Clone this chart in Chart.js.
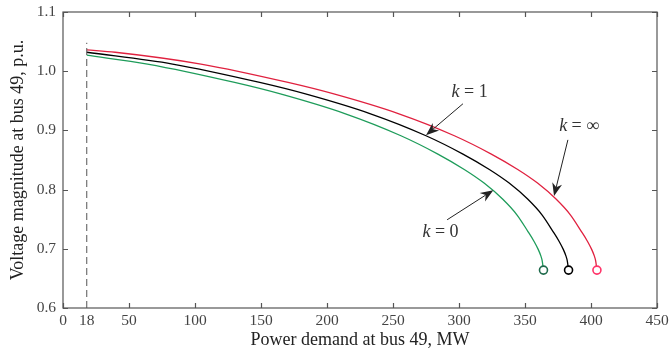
<!DOCTYPE html>
<html>
<head>
<meta charset="utf-8">
<script src="https://cdn.jsdelivr.net/npm/chart.js@4.4.1/dist/chart.umd.min.js"></script>
<style>
  html, body { margin: 0; padding: 0; background: #fff; }
  #wrap { width: 672px; height: 351px; }
</style>
</head>
<body>
<div id="wrap"><canvas id="myChart" width="672" height="351"></canvas></div>
<script>
// power demand (MW) and voltage (p.u.)
const pInf = [18, 39.5, 104.5, 170.5, 204.5, 254.5, 296.5, 324.5, 344.5, 359.5, 373.5, 384.5, 392.5, 397.5, 400.5, 402.5, 403.5, 404.5];
const vInf = [1.036, 1.032, 1.012, 0.981, 0.962, 0.928, 0.891, 0.860, 0.834, 0.811, 0.784, 0.757, 0.730, 0.712, 0.699, 0.688, 0.680, 0.664];

const pK1 = [18, 83, 149, 183, 233, 275, 303, 323, 338, 352, 363, 371, 376, 379, 381, 382, 383];
const vK1 = [1.032, 1.012, 0.981, 0.962, 0.928, 0.891, 0.860, 0.834, 0.811, 0.784, 0.757, 0.730, 0.712, 0.699, 0.688, 0.680, 0.664];

const pK0 = [18, 64, 130, 164, 214, 256, 284, 304, 319, 333, 344, 352, 357, 360, 362, 363, 364];
const vK0 = [1.027, 1.012, 0.981, 0.962, 0.928, 0.891, 0.860, 0.834, 0.811, 0.784, 0.757, 0.730, 0.712, 0.699, 0.688, 0.680, 0.664];

const xTickValues = [0, 18, 50, 100, 150, 200, 250, 300, 350, 400, 450];
const yTickValues = [0.6, 0.7, 0.8, 0.9, 1.0, 1.1];

// labels with arrows: text position, arrow tail, arrow tip (data coords)
const notes = [
    { text: ['k', ' = 1'], tx: 308, ty: 0.965, from: [303, 0.945], to: [275, 0.892] },
    { text: ['k', ' = ∞'], tx: 391, ty: 0.907, from: [382.5, 0.884], to: [372, 0.789] },
    { text: ['k', ' = 0'], tx: 286, ty: 0.728, from: [291, 0.749], to: [326, 0.799] },
];

function toPoints(xs, ys) {
    return xs.map((x, i) => ({ x: x, y: ys[i] }));
}

function endMarker(n) {
    return ctx => (ctx.dataIndex === n - 1 ? 4 : 0);
}

const SERIF = '"Liberation Serif", "DejaVu Serif", serif';
const AXIS = '#555';

const boxAndTicks = {
    id: 'boxAndTicks',
    afterDatasetsDraw(chart) {
        const { ctx, chartArea: a, scales } = chart;
        const x = scales.x, y = scales.y;
        ctx.save();

        // dashed line at 18 MW
        ctx.strokeStyle = '#555';
        ctx.lineWidth = 1;
        ctx.setLineDash([7, 4]);
        ctx.beginPath();
        ctx.moveTo(x.getPixelForValue(18), y.getPixelForValue(0.6));
        ctx.lineTo(x.getPixelForValue(18), y.getPixelForValue(1.048));
        ctx.stroke();
        ctx.setLineDash([]);

        ctx.strokeStyle = AXIS;
        ctx.lineWidth = 1.2;
        ctx.strokeRect(a.left, a.top, a.right - a.left, a.bottom - a.top);
        const len = 5;
        ctx.beginPath();
        xTickValues.filter(v => v !== 18).forEach(v => {
            const px = Math.round(x.getPixelForValue(v)) + 0.5;
            ctx.moveTo(px, a.bottom); ctx.lineTo(px, a.bottom - len);
            ctx.moveTo(px, a.top); ctx.lineTo(px, a.top + len);
        });
        yTickValues.forEach(v => {
            const py = Math.round(y.getPixelForValue(v)) + 0.5;
            ctx.moveTo(a.left, py); ctx.lineTo(a.left + len, py);
            ctx.moveTo(a.right, py); ctx.lineTo(a.right - len, py);
        });
        ctx.stroke();

        // annotations
        notes.forEach(n => {
            const x0 = x.getPixelForValue(n.from[0]), y0 = y.getPixelForValue(n.from[1]);
            const x1 = x.getPixelForValue(n.to[0]), y1 = y.getPixelForValue(n.to[1]);
            const ang = Math.atan2(y1 - y0, x1 - x0);
            const hl = 13, hw = 5;
            ctx.strokeStyle = '#222';
            ctx.fillStyle = '#222';
            ctx.lineWidth = 1;
            ctx.beginPath();
            ctx.moveTo(x0, y0);
            ctx.lineTo(x1 - Math.cos(ang) * hl * 0.7, y1 - Math.sin(ang) * hl * 0.7);
            ctx.stroke();
            ctx.save();
            ctx.translate(x1, y1);
            ctx.rotate(ang);
            ctx.beginPath();
            ctx.moveTo(0, 0);
            ctx.lineTo(-hl, -hw);
            ctx.lineTo(-hl * 0.7, 0);
            ctx.lineTo(-hl, hw);
            ctx.closePath();
            ctx.fill();
            ctx.restore();

            const tx = x.getPixelForValue(n.tx), ty = y.getPixelForValue(n.ty);
            ctx.fillStyle = '#333';
            ctx.textBaseline = 'middle';
            ctx.font = 'italic 18px ' + SERIF;
            const w1 = ctx.measureText(n.text[0]).width;
            ctx.font = '18px ' + SERIF;
            const w2 = ctx.measureText(n.text[1]).width;
            const sx = tx - (w1 + w2) / 2;
            ctx.textAlign = 'left';
            ctx.font = 'italic 18px ' + SERIF;
            ctx.fillText(n.text[0], sx, ty);
            ctx.font = '18px ' + SERIF;
            ctx.fillText(n.text[1], sx + w1, ty);
        });
        ctx.restore();
    }
};

const lineStyle = { borderWidth: 1.3, cubicInterpolationMode: 'monotone', pointBackgroundColor: '#fff', pointBorderWidth: 1.6, pointHoverRadius: 0 };

new Chart(document.getElementById('myChart').getContext('2d'), {
    type: 'line',
    data: {
        datasets: [
            Object.assign({ label: 'k = ∞', data: toPoints(pInf, vInf), borderColor: '#e0213f', pointBorderColor: '#ff3469', pointRadius: endMarker(pInf.length) }, lineStyle),
            Object.assign({ label: 'k = 1', data: toPoints(pK1, vK1), borderColor: '#000', pointBorderColor: '#000', pointRadius: endMarker(pK1.length) }, lineStyle),
            Object.assign({ label: 'k = 0', data: toPoints(pK0, vK0), borderColor: '#1e9c5a', pointBorderColor: '#1f6b4c', pointRadius: endMarker(pK0.length) }, lineStyle),
        ],
    },
    options: {
        responsive: false,
        animation: false,
        clip: false,
        layout: { padding: { top: 12, right: 15, left: 0, bottom: 0 } },
        plugins: { legend: { display: false }, tooltip: { enabled: false } },
        scales: {
            x: {
                type: 'linear',
                min: 0,
                max: 450,
                afterBuildTicks: s => { s.ticks = xTickValues.map(v => ({ value: v })); },
                afterFit: s => { s.height = 43; s.paddingLeft = 0; s.paddingRight = 0; },
                grid: { display: false, drawTicks: false },
                border: { display: false },
                ticks: { color: '#444', font: { family: SERIF, size: 15.5 }, padding: 4, maxRotation: 0, autoSkip: false },
                title: { display: true, text: 'Power demand at bus 49, MW', color: '#222', font: { family: SERIF, size: 18 }, padding: { top: 0, bottom: 0 } },
            },
            y: {
                min: 0.6,
                max: 1.1,
                afterBuildTicks: s => { s.ticks = yTickValues.map(v => ({ value: v })); },
                afterFit: s => { s.width = 63; s.paddingTop = 0; s.paddingBottom = 0; },
                grid: { display: false, drawTicks: false },
                border: { display: false },
                ticks: { color: '#444', font: { family: SERIF, size: 15.5 }, padding: 7, callback: v => v.toFixed(1) },
                title: { display: true, text: 'Voltage magnitude at bus 49, p.u.', color: '#222', font: { family: SERIF, size: 18 }, padding: { top: 7, bottom: 0 } },
            },
        },
    },
    plugins: [boxAndTicks],
});
</script>
</body>
</html>
